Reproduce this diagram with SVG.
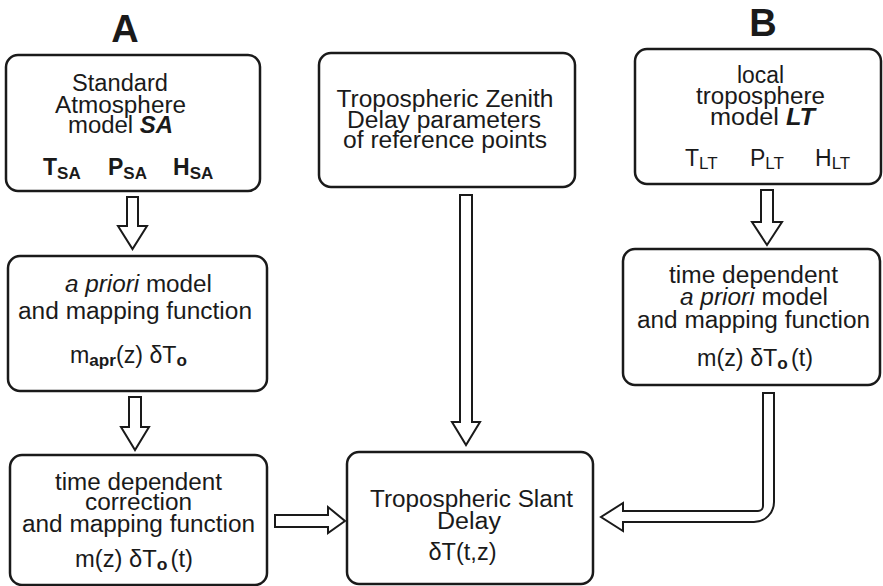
<svg xmlns="http://www.w3.org/2000/svg" width="883" height="586" viewBox="0 0 883 586">
<style>
  .box{fill:#fff;stroke:#1a1a1a;stroke-width:2.5}
  .arr{fill:#fff;stroke:#1a1a1a;stroke-width:2;stroke-linejoin:miter}
  text{font-family:"Liberation Sans",Arial,sans-serif;fill:#1a1a1a}
  .t{font-size:23px;text-anchor:middle}
  .lbl{font-size:38px;font-weight:bold;text-anchor:middle}
  .sym{font-size:23px}
  .sub{font-size:17px}
  .b{font-weight:bold}
  .i{font-style:italic}
</style>
<rect width="883" height="586" fill="#fff"/>
<text class="lbl" x="125" y="42">A</text>
<text class="lbl" x="763" y="36">B</text>
<g id="connectors">
  <polygon class="arr" points="127,197 138,197 138,226 147,226 132.5,249 118,226 127,226"/>
  <polygon class="arr" points="129,397 141,397 141,427 149,427 135,450 121,427 129,427"/>
  <polygon class="arr" points="460,195 472,195 472,422 480,422 466,445 452,422 460,422"/>
  <polygon class="arr" points="275,515 328,515 328,507 345,521 328,533 328,527 275,527"/>
  <polygon class="arr" points="761,190 773,190 773,222 782,222 767,245 752,222 761,222"/>
  <path class="arr" d="M763,393 L774,393 L774,502 A20,20 0 0 1 754,522 L623,522 L623,531 L601,517 L623,503 L623,511 L758,511 A5,5 0 0 0 763,506 Z"/>
</g>
<g id="sa">
  <rect class="box" x="6" y="55" width="254" height="136" rx="12"/>
  <text class="t" x="120" y="91" textLength="96" lengthAdjust="spacingAndGlyphs">Standard</text>
  <text class="t" x="120.5" y="113" textLength="131" lengthAdjust="spacingAndGlyphs">Atmosphere</text>
  <text class="t" x="120.5" y="133" textLength="105" lengthAdjust="spacingAndGlyphs">model <tspan class="b i">SA</tspan></text>
  <text class="sym b" x="43" y="175">T<tspan class="sub" dy="4">SA</tspan></text>
  <text class="sym b" x="108" y="175">P<tspan class="sub" dy="4">SA</tspan></text>
  <text class="sym b" x="173" y="175">H<tspan class="sub" dy="4">SA</tspan></text>
</g>
<g id="zenith">
  <rect class="box" x="319" y="53" width="256" height="134" rx="12"/>
  <text class="t" x="445" y="107" textLength="217" lengthAdjust="spacingAndGlyphs">Tropospheric Zenith</text>
  <text class="t" x="444" y="128" textLength="194" lengthAdjust="spacingAndGlyphs">Delay parameters</text>
  <text class="t" x="445" y="148" textLength="204" lengthAdjust="spacingAndGlyphs">of reference points</text>
</g>
<g id="lt">
  <rect class="box" x="635" y="49" width="246" height="135" rx="12"/>
  <text class="t" x="760.5" y="83" textLength="47" lengthAdjust="spacingAndGlyphs">local</text>
  <text class="t" x="760.5" y="104" textLength="129" lengthAdjust="spacingAndGlyphs">troposphere</text>
  <text class="t" x="762.5" y="125" textLength="105" lengthAdjust="spacingAndGlyphs">model <tspan class="b i">LT</tspan></text>
  <text class="sym" x="685" y="166">T<tspan class="sub" dy="3">LT</tspan></text>
  <text class="sym" x="750" y="166">P<tspan class="sub" dy="3">LT</tspan></text>
  <text class="sym" x="815" y="166">H<tspan class="sub" dy="3">LT</tspan></text>
</g>
<g id="apriori">
  <rect class="box" x="8" y="256" width="259" height="135" rx="12"/>
  <text class="t" x="138.5" y="292" textLength="147" lengthAdjust="spacingAndGlyphs"><tspan class="i">a priori</tspan> model</text>
  <text class="t" x="135" y="319" textLength="234" lengthAdjust="spacingAndGlyphs">and mapping function</text>
  <text class="t" x="128.5" y="363" textLength="117" lengthAdjust="spacingAndGlyphs">m<tspan class="sub b" dy="3">apr</tspan><tspan dy="-3">(z) δT</tspan><tspan class="sub b" dy="3">o</tspan></text>
</g>
<g id="lt-apriori">
  <rect class="box" x="623" y="249" width="257" height="136" rx="12"/>
  <text class="t" x="753.5" y="283" textLength="169" lengthAdjust="spacingAndGlyphs">time dependent</text>
  <text class="t" x="754" y="305" textLength="148" lengthAdjust="spacingAndGlyphs"><tspan class="i">a priori</tspan> model</text>
  <text class="t" x="753.5" y="328" textLength="233" lengthAdjust="spacingAndGlyphs">and mapping function</text>
  <text class="t" x="755" y="366" textLength="116" lengthAdjust="spacingAndGlyphs">m(z) δT<tspan class="sub b" dy="3">o</tspan><tspan dy="-3" dx="3">(t)</tspan></text>
</g>
<g id="correction">
  <rect class="box" x="10" y="455" width="257" height="130" rx="12"/>
  <text class="t" x="138.5" y="490" textLength="167" lengthAdjust="spacingAndGlyphs">time dependent</text>
  <text class="t" x="138.5" y="510" textLength="107" lengthAdjust="spacingAndGlyphs">correction</text>
  <text class="t" x="138.5" y="532" textLength="233" lengthAdjust="spacingAndGlyphs">and mapping function</text>
  <text class="t" x="134" y="567" textLength="118" lengthAdjust="spacingAndGlyphs">m(z) δT<tspan class="sub b" dy="3">o</tspan><tspan dy="-3" dx="3">(t)</tspan></text>
</g>
<g id="slant">
  <rect class="box" x="347" y="452" width="246" height="132" rx="12"/>
  <text class="t" x="471.5" y="507" textLength="203" lengthAdjust="spacingAndGlyphs">Tropospheric Slant</text>
  <text class="t" x="469" y="529" textLength="64" lengthAdjust="spacingAndGlyphs">Delay</text>
  <text class="t" x="462.5" y="560" textLength="68" lengthAdjust="spacingAndGlyphs">δT(t,z)</text>
</g>
</svg>
